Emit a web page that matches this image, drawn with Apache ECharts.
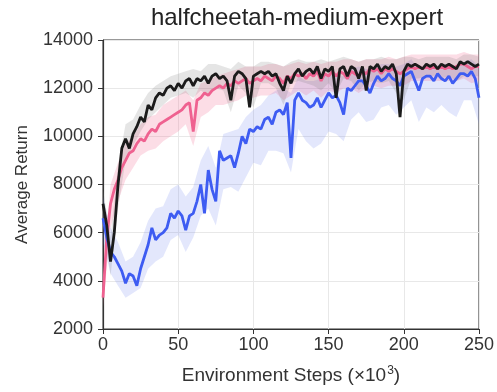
<!DOCTYPE html>
<html>
<head>
<meta charset="utf-8">
<script src="https://cdn.jsdelivr.net/npm/echarts@6/dist/echarts.min.js"></script>
<style>html,body{margin:0;padding:0;background:#fff;}#c{width:497px;height:392px;}</style>
</head>
<body>
<div id="c"></div>
<script>
// x positions (×10^3 env steps)
const stepsFine = [0,2.5,5,7.5,10,12.5,15,17.5,20,22.5,25,27.5,30,32.5,35,37.5,40,42.5,45,47.5,
  50,52.5,55,57.5,60,62.5,65,67.5,70,72.5,75,77.5,80,82.5,85,87.5,90,92.5,95,97.5,
  100,102.5,105,107.5,110,112.5,115,117.5,120,122.5,125,127.5,130,132.5,135,137.5,140,142.5,145,147.5,
  150,152.5,155,157.5,160,162.5,165,167.5,170,172.5,175,177.5,180,182.5,185,187.5,190,192.5,195,197.5,
  200,202.5,205,207.5,210,212.5,215,217.5,220,222.5,225,227.5,230,232.5,235,237.5,240,242.5,245,247.5,250];
const stepsBand = [0,5,10,15,20,25,30,35,40,45,50,55,60,65,70,75,80,85,90,95,100,105,110,115,120,125,
  130,135,140,145,150,155,160,165,170,175,180,185,190,195,200,205,210,215,220,225,230,235,240,245,250];

// mean returns
const blackMean = [7200,6300,4800,6000,8000,9500,9900,9500,10100,10400,
  10800,10600,11300,11100,11600,11800,11700,12000,12100,11900,
  12200,12000,12300,12400,12100,12400,12300,12500,12200,12500,
  12600,12400,12500,12300,11500,12500,12700,12600,12400,11200,
  12500,12600,12700,12600,12700,12500,12600,12200,11900,12500,
  12200,12600,12800,12500,12700,12800,12600,12900,12400,12800,
  12700,12900,11600,12800,12900,12500,12900,12800,12400,12900,
  11900,12900,12800,13000,12700,12900,12800,13000,12600,10800,
  12700,13000,12900,13000,12900,12800,13000,12900,13000,12800,
  13000,12900,13000,12900,12800,13100,13000,13100,13000,12900,
  13000];
const pinkMean = [3300,5800,7200,7800,8200,8700,9000,9300,9400,9700,
  9900,9800,10100,10300,10200,10500,10600,10700,10800,10900,
  11000,11100,11300,11400,10200,11500,11600,11800,11700,11900,
  12000,12100,12000,12200,12100,12300,12200,12300,12400,12200,
  12300,12400,12300,12500,12400,12300,12500,12400,12200,12500,
  12400,12600,12500,12600,12400,12600,12500,12700,12300,12600,
  12500,12700,12500,12700,12600,12400,12700,12600,12500,12700,
  12600,12800,12700,12800,12600,12800,12700,12800,12700,12600,
  12700,12800,12900,12800,12900,12800,12900,12800,12900,12800,
  12900,12800,12900,12800,12900,13000,13000,12900,12800,12900,
  12900];
const blueMean = [6600,5800,5200,5000,4700,4400,3900,4300,4200,3800,
  4500,5000,5500,6200,5700,5900,6000,6200,6800,6600,
  6900,6700,6100,6700,6800,7300,8000,6800,8600,7800,
  7300,9400,9000,9100,9200,8700,9300,10000,9700,10300,
  10200,10400,10300,10700,10800,10500,11000,11100,10900,11400,
  9100,11500,11800,11500,11400,11200,11300,11600,11200,11500,
  11800,11600,11700,11400,10900,12000,11900,12100,12300,12300,
  12100,11800,12200,12500,12300,12400,12600,12400,12300,12100,
  12500,12600,12700,12300,11900,12400,12500,12500,12300,12600,
  12400,12300,12500,12200,12400,12600,12600,12500,12700,12400,
  11600];

// shaded bands (lower / upper)
const blackLo = [6500,4200,7000,9000,9600,10200,10700,11000,11300,11600,11700,11800,11600,11900,11700,12000,11900,11000,12100,11800,
  11200,12200,12200,12000,11300,12200,12300,12200,12100,11900,12200,11800,12400,12300,11900,12200,12300,12200,12300,11800,
  11500,12400,12400,12500,12500,12400,12500,12300,12500,12500,12500];
const blackHi = [7800,5800,8800,10500,10700,11300,11800,12100,12300,12500,12600,12700,12800,12700,13000,13000,12900,12800,13100,12900,
  12900,13100,13100,13000,12900,13100,13200,13100,13100,13200,13100,13200,13300,13200,13100,13200,13200,13300,13200,13200,
  13300,13300,13200,13300,13300,13300,13300,13200,13400,13400,13300];
const pinkLo = [2900,6200,7300,8200,8700,9200,9400,9500,9800,10000,10200,10500,9600,10800,11000,11300,11300,11400,11500,11700,
  11600,11700,11700,11800,11500,11700,11900,11700,11900,11600,11900,11800,12000,12000,11800,12000,12100,12000,12100,12100,
  12100,12300,12300,12300,12300,12300,12300,12300,12400,12200,12300];
const pinkHi = [4000,8000,8900,9700,10000,10500,10800,10900,11300,11500,11700,11900,11500,12200,12300,12500,12600,12700,12800,12900,
  12900,12900,13000,13000,12900,13000,13100,13000,13100,13000,13100,13100,13200,13200,13100,13200,13200,13200,13300,13200,
  13300,13400,13400,13400,13400,13400,13400,13400,13500,13400,13400];
const blueLo = [5600,4300,3800,3300,3500,3700,4500,4800,5000,5700,5900,5200,5800,6700,7000,6300,7800,7900,7700,8300,
  8900,8800,9400,9400,9300,8500,10300,9800,9500,9700,10200,10100,9800,10700,11000,10600,10700,11200,11300,10900,
  11200,11500,10600,11200,11000,11300,11000,10800,11500,11500,10500];
const blueHi = [7500,6200,5600,4800,5000,5600,6500,7000,7100,7800,8000,7500,7900,9000,9600,8700,10100,10200,10300,10800,
  11100,11300,11700,11900,12000,11800,12500,12300,12300,12400,12600,12500,12500,12800,12900,12800,12800,13000,13000,12900,
  13000,13200,12800,13000,12900,13000,13000,12900,13100,13200,12900];

const xTicks = [0,50,100,150,200,250];
const yTicks = [2000,4000,6000,8000,10000,12000,14000];

const FONT = "'Liberation Sans', Arial, sans-serif";

function pairs(xs, ys){ return xs.map((x,i)=>[x, ys[i]]); }
// band: one filled polygon per series, vertices mapped through the axes by api.coord
function bandSeries(name, lo, hi, color){
  const data = stepsBand.map((x,i)=>[x, lo[i], hi[i]]);
  return {
    type:'custom', name:name, silent:true, z:1, clip:true,
    encode:{x:0, y:[1,2]},
    data:data,
    renderItem:function(params, api){
      if (params.dataIndex !== 0) return null;
      const upper = data.map(d=>api.coord([d[0], d[2]]));
      const lower = data.map(d=>api.coord([d[0], d[1]])).reverse();
      return {type:'polygon', shape:{points:upper.concat(lower)},
        style:{fill:color, stroke:null}};
    }
  };
}
function meanSeries(name, ys, color, z){
  return {type:'line', name:name, data:pairs(stepsFine, ys), symbol:'none',
    lineStyle:{color:color, width:2.8}, z:z};
}

const chart = echarts.init(document.getElementById('c'), null, {renderer:'canvas'});
chart.setOption({
  animation:false,
  title:{text:'halfcheetah-medium-expert', left:292, top:1, textAlign:'center',
    textStyle:{fontFamily:FONT, fontSize:24, fontWeight:'normal', color:'#222'}},
  grid:{left:103, right:16, top:40, bottom:63, show:true, borderColor:'#333', borderWidth:1, backgroundColor:'transparent'},
  xAxis:{type:'value', min:xTicks[0], max:xTicks[xTicks.length-1], interval:50,
    name:'Environment Steps (×10{sup|3})', nameLocation:'middle', nameGap:36,
    nameTextStyle:{fontFamily:FONT, fontSize:19, color:'#333',
      rich:{sup:{fontFamily:FONT, fontSize:12, color:'#333', verticalAlign:'top', padding:[0,0,10,1]}}},
    axisLine:{show:true, lineStyle:{color:'#333', width:1.2}},
    axisTick:{show:true, length:5, lineStyle:{color:'#333'}},
    axisLabel:{fontFamily:FONT, fontSize:18, color:'#333', margin:7, formatter:v=>String(v)},
    splitLine:{show:true, lineStyle:{color:'#e8e8e8', width:1}}},
  yAxis:{type:'value', min:yTicks[0], max:yTicks[yTicks.length-1], interval:2000,
    name:'Average Return', nameLocation:'middle', nameGap:72,
    nameTextStyle:{fontFamily:FONT, fontSize:17, color:'#333'},
    axisLine:{show:true, lineStyle:{color:'#333', width:1.2}},
    axisTick:{show:true, length:5, lineStyle:{color:'#333'}},
    axisLabel:{fontFamily:FONT, fontSize:18, color:'#333', margin:10, formatter:v=>String(v)},
    splitLine:{show:true, lineStyle:{color:'#e8e8e8', width:1}}},
  series:[
    bandSeries('blueBand', blueLo, blueHi, 'rgba(90,115,235,0.17)'),
    bandSeries('pinkBand', pinkLo, pinkHi, 'rgba(240,100,140,0.22)'),
    bandSeries('blackBand', blackLo, blackHi, 'rgba(110,110,110,0.18)'),
    meanSeries('pink', pinkMean, '#ef6190', 3),
    meanSeries('blue', blueMean, '#3e5cf2', 4),
    meanSeries('black', blackMean, '#1b1b1b', 5)
  ]
});
</script>
</body>
</html>
